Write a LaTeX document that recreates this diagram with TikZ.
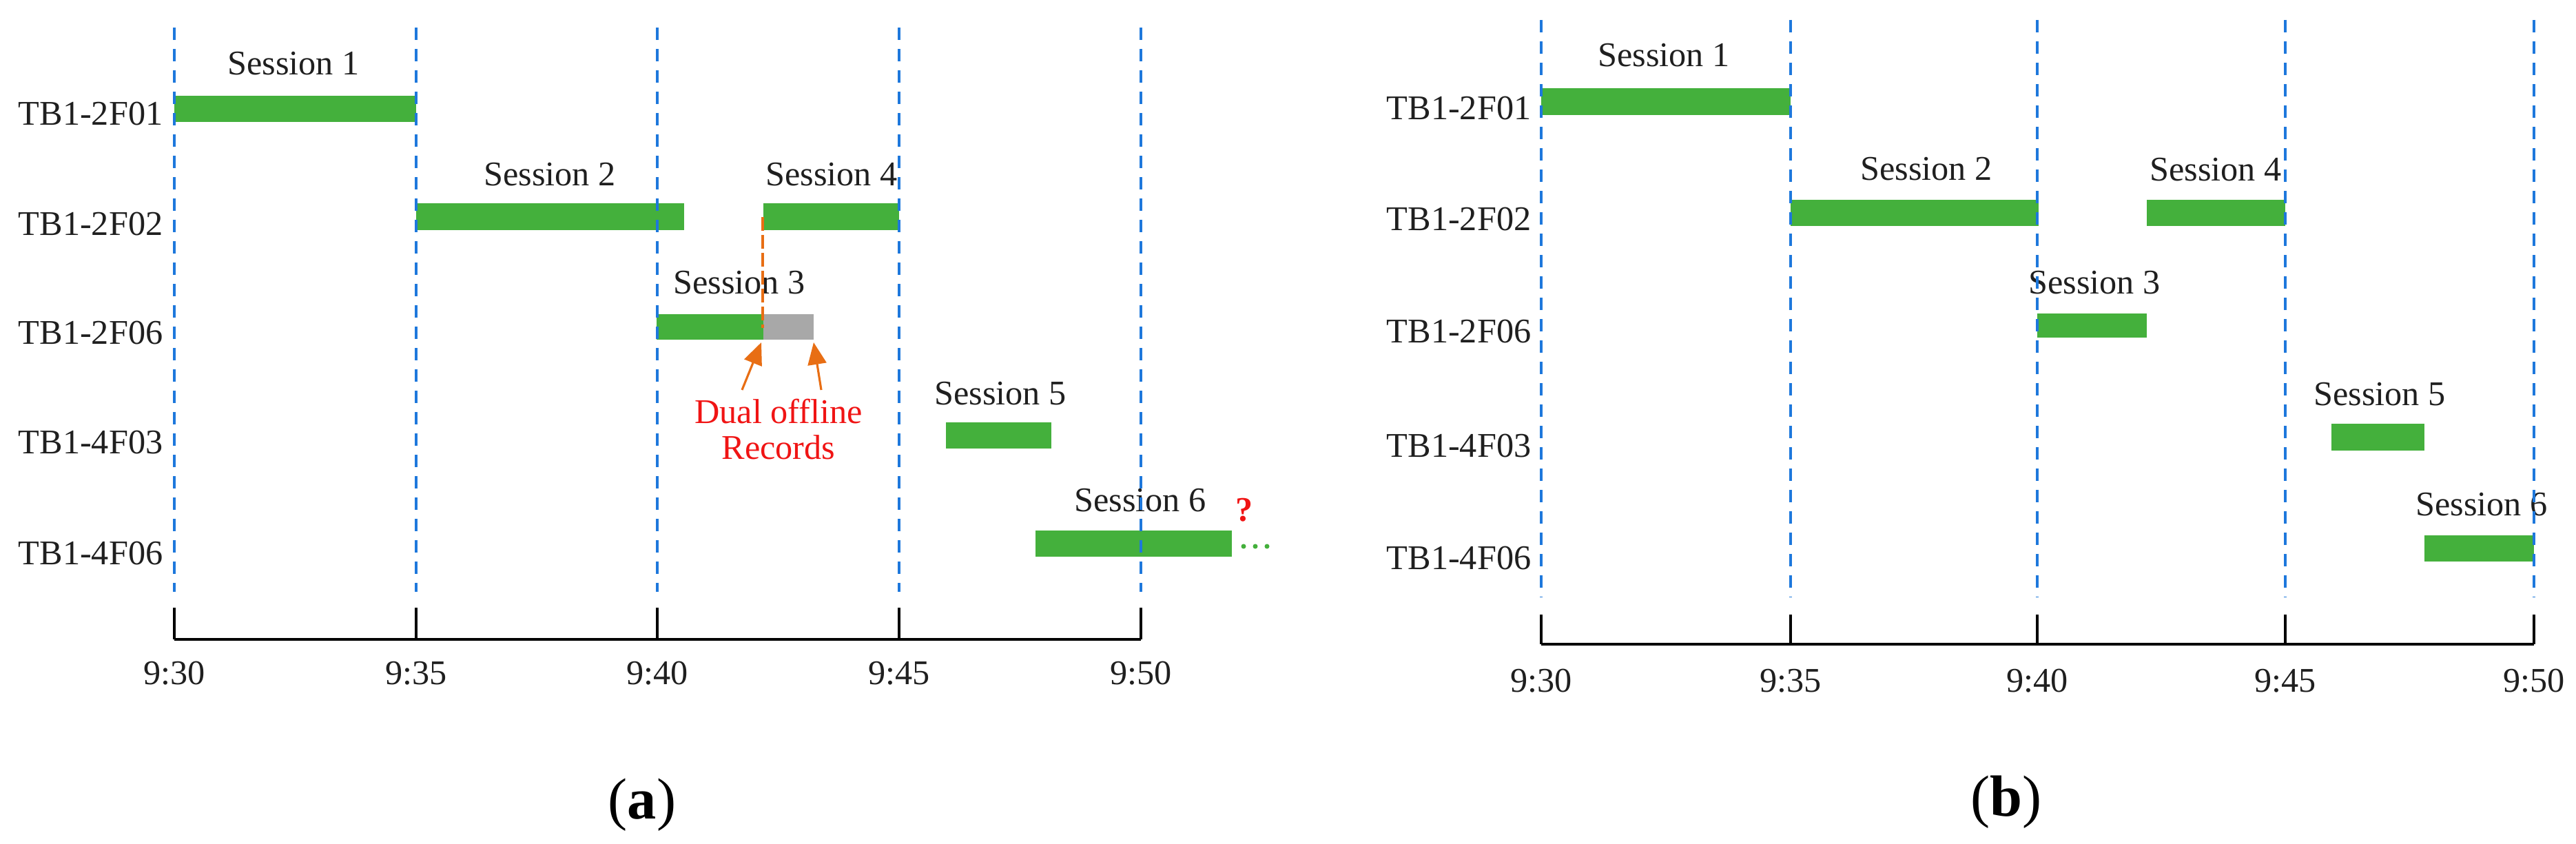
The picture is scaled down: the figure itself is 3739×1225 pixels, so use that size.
\documentclass[tikz,border=0pt]{standalone}
\usepackage{fontspec}
\setmainfont{Liberation Serif}
\usetikzlibrary{arrows.meta}
\definecolor{barg}{RGB}{68,176,60}
\definecolor{dashb}{RGB}{30,120,220}
\definecolor{greyb}{RGB}{168,168,168}
\definecolor{orng}{RGB}{232,110,20}
\definecolor{redt}{RGB}{240,20,20}
\begin{document}
\begin{tikzpicture}[x=0.01cm,y=-0.01cm,
  lbl/.style={font=\fontsize{14.3pt}{17pt}\selectfont, inner sep=0pt, text=black!88},
  rowlbl/.style={lbl, anchor=east},
  grid/.style={dashb, line width=1.1pt, dash pattern=on 0.18cm off 0.13cm},
  bar/.style={fill=barg},
  offbar/.style={fill=greyb},
  axisline/.style={line width=1.4pt, black},
  tickline/.style={line width=1pt, black},
  redlbl/.style={font=\fontsize{14.3pt}{14.6pt}\selectfont, inner sep=0pt, text=redt, align=center},
  orarrow/.style={orng, line width=0.9pt, -{Triangle[length=0.32cm,width=0.27cm]}},
  ordash/.style={orng, line width=0.9pt, dash pattern=on 0.2cm off 0.06cm},
  captionlbl/.style={font=\fontsize{24pt}{28pt}\selectfont, inner sep=0pt}]
\useasboundingbox (0,0) rectangle (3739,1225);

% ===== Panel (a) =====
% bars
\fill[bar] (253,139) rectangle (604,177);
\fill[bar] (604,295) rectangle (993,334);
\fill[bar] (1108,295) rectangle (1305,334);
\fill[bar] (953,456) rectangle (1108,493);
\fill[offbar] (1108,456) rectangle (1181,493);
\fill[bar] (1373,613) rectangle (1526,651);
\fill[bar] (1503,770) rectangle (1788,808);

% row labels
\node[rowlbl] (ar1) at (237,165) {TB1-2F01};
\node[rowlbl] (ar2) at (237,325) {TB1-2F02};
\node[rowlbl] (ar3) at (237,483) {TB1-2F06};
\node[rowlbl] (ar4) at (237,642) {TB1-4F03};
\node[rowlbl] (ar5) at (237,803) {TB1-4F06};

% session labels
\node[lbl] (as1) at (426,92) {Session 1};
\node[lbl] (as2) at (798,253) {Session 2};
\node[lbl] (as4) at (1207,253) {Session 4};
\node[lbl] (as3) at (1073,410) {Session 3};
\node[lbl] (as5) at (1452,571) {Session 5};
\node[lbl] (as6) at (1655,726) {Session 6};

% axis
\draw[axisline] (253,928) -- (1656,928);
\foreach \x in {253,604,954,1305,1656} {
  \draw[tickline] (\x,882) -- (\x,928);
}
\node[lbl] (at1) at (253,977) {9:30};
\node[lbl] (at2) at (604,977) {9:35};
\node[lbl] (at3) at (954,977) {9:40};
\node[lbl] (at4) at (1305,977) {9:45};
\node[lbl] (at5) at (1656,977) {9:50};

% grid lines
\foreach \x in {253,604,954,1305,1656} {
  \draw[grid] (\x,40) -- (\x,859);
}

% dual offline annotation
\coordinate (odtop) at (1107,315);
\coordinate (odbot) at (1107,476);
\draw[ordash] (odtop) -- (odbot);
\node[redlbl] (dual) at (1130,623) {Dual offline\\Records};
\coordinate (tipA) at (1105,497);
\coordinate (tipB) at (1181,497);
\coordinate (srcA) at (1077,566);
\coordinate (srcB) at (1192,566);
\draw[orarrow] (srcA) -- (tipA);
\draw[orarrow] (srcB) -- (tipB);

% question mark and continuation dots
\node[lbl, text=redt, font=\fontsize{14.3pt}{17pt}\selectfont\bfseries] (qm) at (1806,740) {?};
\foreach \x in {1805,1822,1839} {
  \fill[barg] (\x,793) circle (0.035cm);
}

\node[captionlbl] (capa) at (932,1168) {(\textbf{a})};

% ===== Panel (b) =====
\fill[bar] (2237,128) rectangle (2599,167);
\fill[bar] (2599,290) rectangle (2959,328);
\fill[bar] (3116,290) rectangle (3317,328);
\fill[bar] (2957,455) rectangle (3116,490);
\fill[bar] (3384,615) rectangle (3519,654);
\fill[bar] (3519,777) rectangle (3678,815);

\node[rowlbl] (br1) at (2223,157) {TB1-2F01};
\node[rowlbl] (br2) at (2223,318) {TB1-2F02};
\node[rowlbl] (br3) at (2223,481) {TB1-2F06};
\node[rowlbl] (br4) at (2223,647) {TB1-4F03};
\node[rowlbl] (br5) at (2223,810) {TB1-4F06};

\node[lbl] (bs1) at (2415,80) {Session 1};
\node[lbl] (bs2) at (2796,245) {Session 2};
\node[lbl] (bs4) at (3216,246) {Session 4};
\node[lbl] (bs3) at (3040,410) {Session 3};
\node[lbl] (bs5) at (3454,572) {Session 5};
\node[lbl] (bs6) at (3602,732) {Session 6};

\draw[axisline] (2237,935) -- (3678,935);
\foreach \x in {2237,2599,2957,3317,3678} {
  \draw[tickline] (\x,892) -- (\x,935);
}
\node[lbl] (bt1) at (2237,988) {9:30};
\node[lbl] (bt2) at (2599,988) {9:35};
\node[lbl] (bt3) at (2957,988) {9:40};
\node[lbl] (bt4) at (3317,988) {9:45};
\node[lbl] (bt5) at (3678,988) {9:50};

\foreach \x in {2237,2599,2957,3317,3678} {
  \draw[grid] (\x,29) -- (\x,867);
}

\node[captionlbl] (capb) at (2912,1164) {(\textbf{b})};
\end{tikzpicture}
\end{document}
